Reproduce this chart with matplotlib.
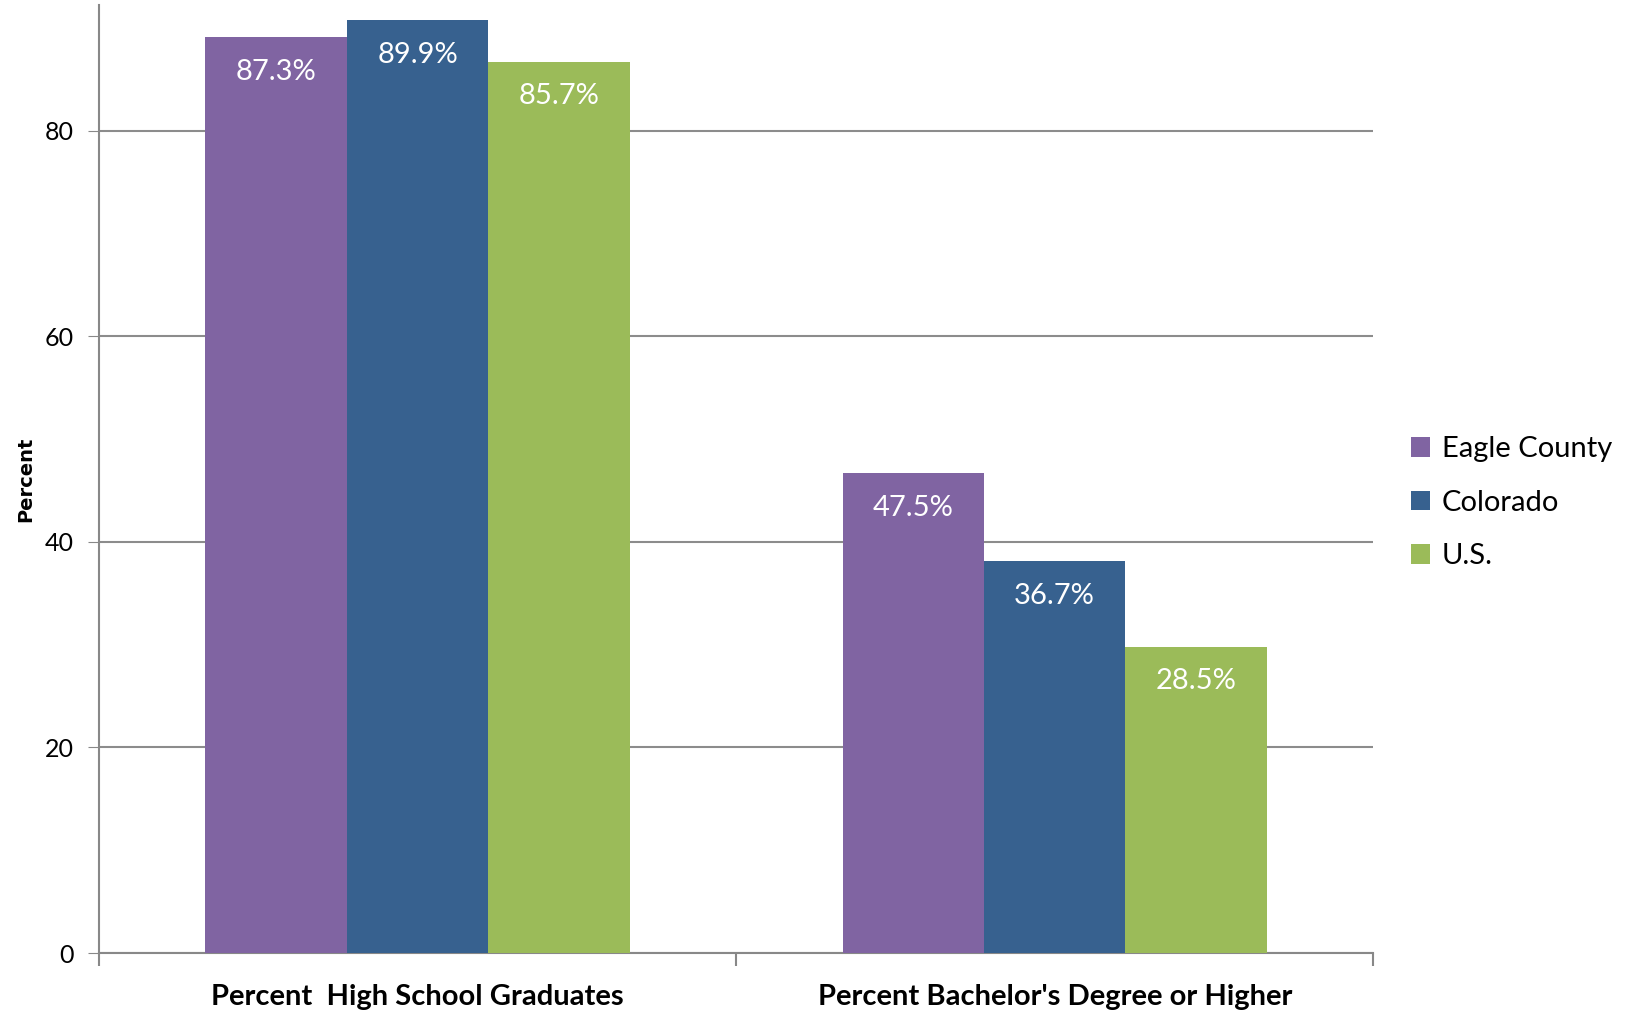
import numpy as np
import matplotlib.pyplot as plt

categories = ["Percent  High School Graduates", "Percent Bachelor's Degree or Higher"]
series = ["Eagle County", "Colorado", "U.S."]
# bar heights as drawn, and the printed labels
heights = {
    "Eagle County": [89.1, 46.7],
    "Colorado": [90.7, 38.1],
    "U.S.": [86.7, 29.8],
}
labels = {
    "Eagle County": ["87.3%", "47.5%"],
    "Colorado": ["89.9%", "36.7%"],
    "U.S.": ["85.7%", "28.5%"],
}
colors = ["#8064A2", "#37618F", "#9BBB59"]
yticks = [0, 20, 40, 60, 80]

plt.rcParams['font.family'] = ['Lato', 'DejaVu Sans']

fig = plt.figure(figsize=(16.29, 10.13), dpi=100)
ax = fig.add_axes([0.0608, 0.0592, 0.7822, 0.9358])

x = np.arange(len(categories))
w = 0.222
for i, name in enumerate(series):
    pos = x + (i - 1) * w
    bars = ax.bar(pos, heights[name], w, color=colors[i], label=name, zorder=3)
    for b, lab in zip(bars, labels[name]):
        ax.annotate(lab, (b.get_x() + b.get_width() / 2, b.get_height()),
                    xytext=(0, -25), textcoords='offset points',
                    ha='center', va='center', color='white', fontsize=21)

ax.set_xlim(-0.5, 1.5)
ax.set_ylim(0, 92.2)
ax.set_yticks(yticks)
ax.tick_params(axis='y', labelsize=18, length=8, color='#888888', pad=10)
ax.yaxis.grid(True, color='#8c8c8c', linewidth=1.5, zorder=0)
ax.set_axisbelow(True)

ax.set_xticks(x)
ax.set_xticklabels(categories, fontsize=21, fontweight='bold')
ax.tick_params(axis='x', length=0, pad=22)
ax.set_xticks([-0.5, 0.5, 1.5], minor=True)
ax.tick_params(axis='x', which='minor', length=9, color='#888888', width=1.5)

for s in ['top', 'right']:
    ax.spines[s].set_visible(False)
for s in ['left', 'bottom']:
    ax.spines[s].set_color('#888888')
    ax.spines[s].set_linewidth(1.5)

ax.set_ylabel("Percent", fontsize=14, fontweight='bold', family='DejaVu Sans', labelpad=7)

ax.legend(loc='center left', bbox_to_anchor=(1.009, 0.475), frameon=False,
          fontsize=21, handlelength=0.65, handleheight=0.65, handletextpad=0.4,
          labelspacing=0.95)

fig.savefig("out.png", dpi=100)
